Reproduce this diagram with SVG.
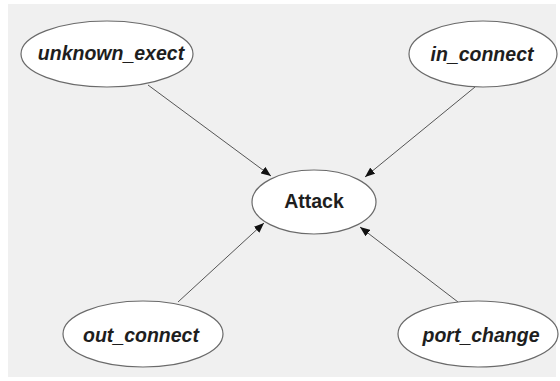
<svg xmlns="http://www.w3.org/2000/svg" width="560" height="381" viewBox="0 0 560 381">
<defs>
<style>
.node ellipse{fill:#ffffff;stroke:#6a6a6a;stroke-width:1.2}
.node text{font-family:"Liberation Sans",Arial,sans-serif;font-weight:bold;font-style:italic;font-size:19.5px;fill:#1e1e1e;text-anchor:middle}
#Attack text{font-style:normal}
.edge{stroke:#555555;stroke-width:1;fill:none;marker-end:url(#arrow)}
</style>
<marker id="arrow" viewBox="0 0 10 8" refX="10" refY="4" markerWidth="10" markerHeight="8" markerUnits="userSpaceOnUse" orient="auto">
<path d="M0,0 L10,4 L0,8 z" fill="#111111"/>
</marker>
</defs>
<rect x="0" y="0" width="560" height="381" fill="#ffffff"/>
<rect x="8" y="4" width="548" height="373" fill="#f0f0f0"/>
<g id="connectors">
<line class="edge" x1="148" y1="85" x2="271" y2="176"/>
<line class="edge" x1="475" y1="87" x2="365" y2="177"/>
<line class="edge" x1="178" y1="302" x2="264" y2="223"/>
<line class="edge" x1="458" y1="302" x2="360" y2="227"/>
</g>
<g id="unknown_exect" class="node">
<ellipse cx="107" cy="54" rx="86" ry="33"/>
<text x="111" y="60">unknown_exect</text>
</g>
<g id="in_connect" class="node">
<ellipse cx="483" cy="54" rx="74" ry="33"/>
<text x="482" y="61">in_connect</text>
</g>
<g id="Attack" class="node">
<ellipse cx="314" cy="202" rx="62" ry="32"/>
<text x="314" y="208">Attack</text>
</g>
<g id="out_connect" class="node">
<ellipse cx="143" cy="334" rx="80" ry="33"/>
<text x="141" y="342">out_connect</text>
</g>
<g id="port_change" class="node">
<ellipse cx="478" cy="334" rx="80" ry="33"/>
<text x="481" y="342">port_change</text>
</g>
</svg>
